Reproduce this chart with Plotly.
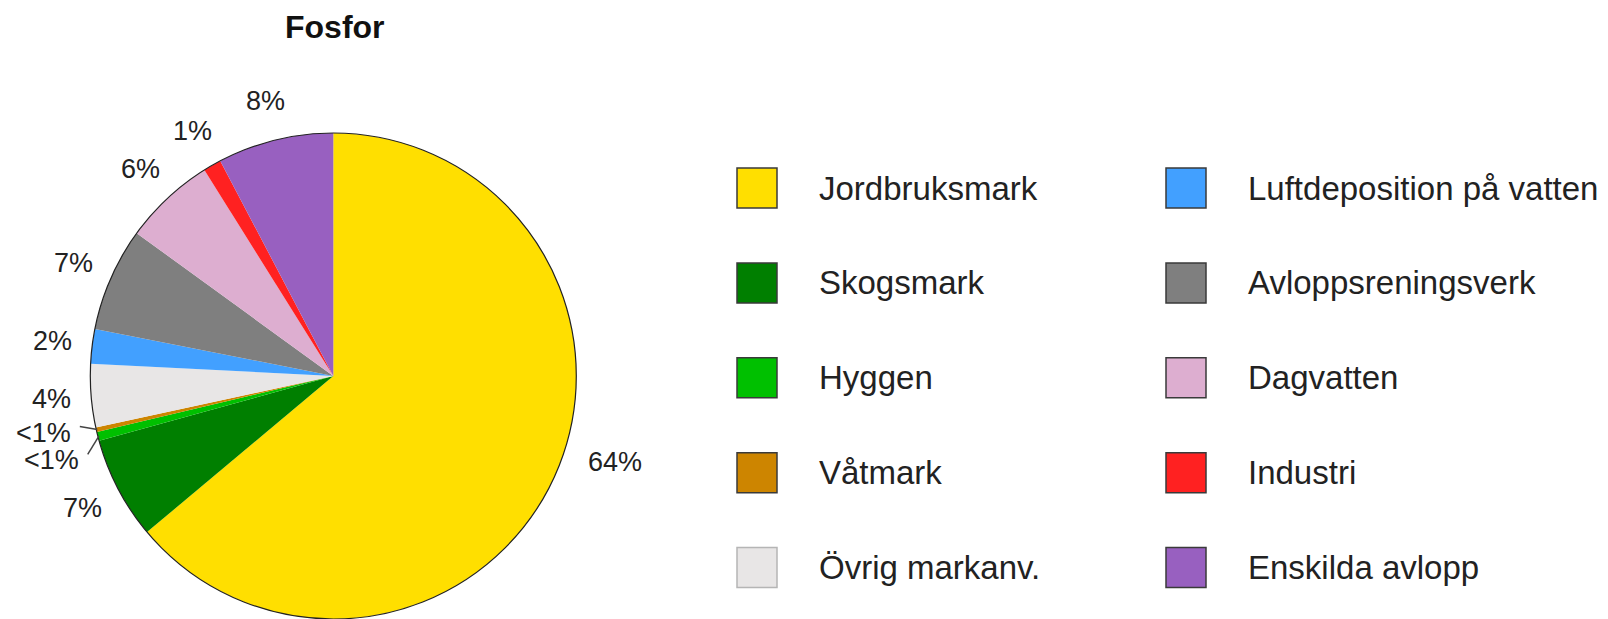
import math
import plotly.graph_objects as go

# ---------------- data ----------------
categories = ["Jordbruksmark", "Skogsmark", "Hyggen", "Våtmark", "Övrig markanv.",
              "Luftdeposition på vatten", "Avloppsreningsverk", "Dagvatten",
              "Industri", "Enskilda avlopp"]
shares = [63.9, 6.8, 0.6, 0.3, 4.2, 2.3, 6.9, 6.1, 1.2, 7.7]
pct_labels = ["64%", "7%", "<1%", "<1%", "4%", "2%", "7%", "6%", "1%", "8%"]
colors = ["#FFDF00", "#007F00", "#00C000", "#CD8500", "#E8E6E6",
          "#42A0FF", "#7F7F7F", "#DDAED0", "#FF2121", "#9860C0"]
title = "Fosfor"

# ---------------- layout / style ----------------
W, H = 1608, 619
CX, R = 333.3, 243.0            # pie centre x and radius (px)
LABEL_R = 283.0                 # label distance from centre (px)
# manual nudges of some labels to keep them legible
label_nudge = {0: (0, 0, "angle", 107.0, 295.0), 2: (-8, 14), 3: (-14, -6)}
leader = {2, 3}                 # labels with leader lines
FONT = "Liberation Sans, Arial, sans-serif"
TXT = "#222222"

dom_h = 2 * R / H
CY = H - R                      # centre y in px from top
dom_x = [(CX - R) / W, (CX + R) / W]
dom_y = [0, dom_h]

def px2paper(x, y):
    return x / W, 1 - y / H

fig = go.Figure()
fig.add_trace(go.Pie(
    labels=categories, values=shares, sort=False, direction="clockwise",
    rotation=0, marker=dict(colors=colors, line=dict(width=0)),
    textinfo="none", hoverinfo="label+percent", showlegend=False,
    domain=dict(x=dom_x, y=dom_y)))
# outer outline of the pie
fig.add_trace(go.Pie(
    labels=["outline"], values=[1], sort=False, textinfo="none",
    marker=dict(colors=["rgba(0,0,0,0)"], line=dict(width=1.2, color="#222222")),
    hoverinfo="skip", showlegend=False, domain=dict(x=dom_x, y=dom_y)))

annotations = []
shapes = []
total = sum(shares)
cum = 0.0
for i, (v, lab) in enumerate(zip(shares, pct_labels)):
    mid = 2 * math.pi * (cum + v / 2) / total
    cum += v
    r = LABEL_R
    ang = mid
    dx = dy = 0
    nd = label_nudge.get(i)
    if nd is not None:
        if len(nd) == 5:
            ang = math.radians(nd[3])
            r = nd[4]
        else:
            dx, dy = nd
    lx = CX + r * math.sin(ang) + dx
    ly = CY - r * math.cos(ang) + dy
    px, py = px2paper(lx, ly)
    annotations.append(dict(x=px, y=py, xref="paper", yref="paper", text=lab,
                            showarrow=False, xanchor="center", yanchor="middle",
                            font=dict(family=FONT, size=27, color=TXT)))
    if i in leader:
        tw = 57
        x0, y0 = lx + tw / 2 + 8, ly - 6
        x1, y1 = CX + (R - 1) * math.sin(mid), CY - (R - 1) * math.cos(mid)
        a0 = px2paper(x0, y0)
        a1 = px2paper(x1, y1)
        shapes.append(dict(type="line", xref="paper", yref="paper",
                           x0=a0[0], y0=a0[1], x1=a1[0], y1=a1[1],
                           line=dict(color="#444444", width=1.5)))

# title
tx, ty = px2paper(335, 27)
annotations.append(dict(x=tx, y=ty, xref="paper", yref="paper", text="<b>" + title + "</b>",
                        showarrow=False, xanchor="center", yanchor="middle",
                        font=dict(family=FONT, size=32, color="#111111")))

# custom legend (two columns, five rows)
col_box_x = [737, 1166]
text_gap = 80
row0, row_step, box = 188.0, 94.9, 40
for i, (name, col) in enumerate(zip(categories, colors)):
    c, rr = divmod(i, 5)
    bx = col_box_x[c]
    by = row0 + rr * row_step
    p0 = px2paper(bx, by - box / 2)
    p1 = px2paper(bx + box, by + box / 2)
    light = col.upper() == "#E8E6E6"
    shapes.append(dict(type="rect", xref="paper", yref="paper",
                       x0=p0[0], y0=p1[1], x1=p1[0], y1=p0[1], fillcolor=col,
                       line=dict(color="#B5B5B5" if light else "#3A3A3A", width=1.5)))
    t = px2paper(bx + text_gap, by)
    annotations.append(dict(x=t[0], y=t[1], xref="paper", yref="paper", text=name,
                            showarrow=False, xanchor="left", yanchor="middle",
                            font=dict(family=FONT, size=33, color=TXT)))

fig.update_layout(width=W, height=H, margin=dict(l=0, r=0, t=0, b=0),
                  paper_bgcolor="white", plot_bgcolor="white",
                  annotations=annotations, shapes=shapes, showlegend=False)
fig.write_html("out.html", config={"displayModeBar": False},
               post_script="document.body.style.margin='0';document.body.style.overflow='hidden';")
